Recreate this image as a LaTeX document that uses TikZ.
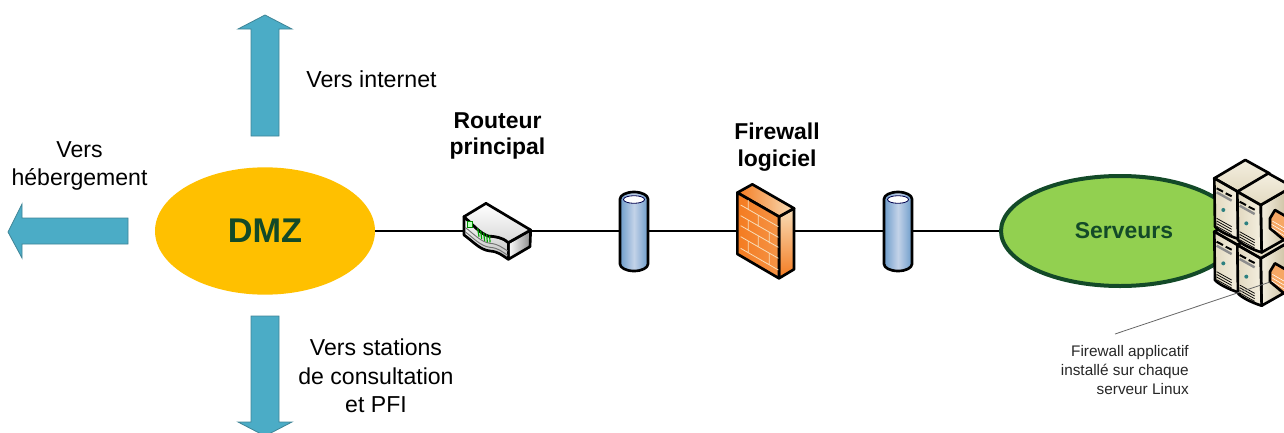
\documentclass[tikz,border=0pt]{standalone}
\usepackage{fontspec}
\setmainfont{Liberation Sans}
\usetikzlibrary{shapes.geometric}
\definecolor{arrowblue}{HTML}{4BACC6}
\definecolor{arrowedge}{HTML}{3F8496}
\definecolor{gold}{HTML}{FFC000}
\definecolor{leaf}{HTML}{92D050}
\definecolor{pine}{HTML}{134A28}
\definecolor{brick}{HTML}{F47B20}
\definecolor{brickpale}{HTML}{F8DDB8}
\definecolor{cyl}{HTML}{6E9CCB}
\definecolor{cylpale}{HTML}{C3D3E8}
\definecolor{srvpale}{HTML}{F4EFE0}
\definecolor{srvmid}{HTML}{E2D9C0}
\definecolor{srvdark}{HTML}{C4B896}
\tikzset{
  bigarrow/.style={fill=arrowblue,draw=arrowedge,line width=.6pt},
  link/.style={draw=black,line width=1pt},
  iconline/.style={draw=black,line width=2pt,line join=round},
  anchorbox/.style={inner sep=0pt,outer sep=0pt,minimum height=20pt},
  biglabel/.style={font=\fontsize{17.3}{21.2}\selectfont,align=center,inner sep=0pt},
  boldlabel/.style={font=\fontsize{17.2}{20.2}\selectfont\bfseries,align=center,inner sep=0pt},
  notelabel/.style={font=\fontsize{11.5}{14}\selectfont,align=right,inner sep=0pt,text=black!85},
}
% server icon; #1 = front top-left corner in reference pixels; coordinates inside are 1/3 pixel
\newcommand{\serverbox}[1]{%
\begin{scope}[shift={#1},x=.25pt,y=-.25pt]
  \shade[left color=srvpale,right color=srvdark,iconline] (70,40) -- (165,-15) -- (165,130) -- (73,182) -- cycle;
  \shade[top color=srvpale,bottom color=srvmid,iconline] (0,0) -- (93,-55) -- (165,-15) -- (70,40) -- cycle;
  \shade[left color=srvmid,right color=srvpale,iconline] (0,0) -- (70,40) -- (73,182) .. controls (40,172) and (10,155) .. (2,145) -- cycle;
  \draw[black,line width=1.5pt] (7,30) -- (26,40) (34,45) -- (52,54);
  \draw[black!45,line width=1.8pt] (7,42) -- (52,67);
  \fill[teal!65!gray] (27,95) circle (6);
  \draw[black,line width=.55pt] (7,120) -- (52,145) (7,128) -- (52,153) (7,136) -- (52,161) (7,144) -- (52,169);
\end{scope}}
% small firewall on a server's side
\newcommand{\miniwall}[1]{%
\begin{scope}[shift={#1},x=.25pt,y=-.25pt]
  \path[fill=brick!55!brickpale,iconline] (98,80) -- (113,55) -- (170,88) -- (170,170) -- (98,110) -- cycle;
  \draw[white,line width=.4pt] (105,88) -- (150,114) (103,98) -- (150,126) (103,108) -- (150,138);
\end{scope}}
\newcommand{\cylicon}[1]{%
\begin{scope}[shift={#1}]
  \shade[left color=cyl,right color=cyl,middle color=cylpale,iconline]
    (-14,-32) -- (-14,33) arc[start angle=180,end angle=360,x radius=14,y radius=-7] -- (14,-32)
    arc[start angle=0,end angle=180,x radius=14,y radius=-7] -- cycle;
  \draw[black!70!blue,line width=.6pt,fill=white] (0,-31.5) ellipse[x radius=10.5,y radius=3.8];
\end{scope}}
\begin{document}
\begin{tikzpicture}[x=.75pt,y=-.75pt]
\clip (0,0) rectangle (1284,432);
\useasboundingbox (0,0) rectangle (1284,432);

% arrows
\path[bigarrow] (265,15) -- (292,29) -- (279,29) -- (279,136) -- (251,136) -- (251,29) -- (238,29) -- cycle;
\path[bigarrow] (265,436) -- (292,422) -- (279,422) -- (279,316) -- (251,316) -- (251,422) -- (238,422) -- cycle;
\path[bigarrow] (8,232) -- (22,204) -- (22,218) -- (128,218) -- (128,244) -- (22,244) -- (22,258) -- cycle;

% main nodes
\node[ellipse,fill=gold,inner sep=0pt,minimum width=165pt,minimum height=95.5pt,
      font=\fontsize{25.7}{30}\selectfont\bfseries,text=pine] (dmz) at (265,231) {DMZ};
\node[ellipse,fill=leaf,draw=pine,line width=3pt,inner sep=0pt,minimum width=178.5pt,minimum height=82.5pt,
      font=\fontsize{17.2}{20}\selectfont\bfseries,text=pine] (srv) at (1120,231) {\hspace*{6pt}Serveurs};
\node[anchorbox,minimum width=49.5pt] (router) at (497,231) {};
\node[anchorbox,minimum width=21pt] (cylA) at (634,231) {};
\node[anchorbox,minimum width=42pt] (wall) at (766,231) {};
\node[anchorbox,minimum width=21pt] (cylB) at (898,231) {};

\draw[link] (dmz.east) -- (router.west);
\draw[link] (router.east) -- (cylA.west);
\draw[link] (cylA.east) -- (wall.west);
\draw[link] (wall.east) -- (cylB.west);
\draw[link] (cylB.east) -- (srv.west);

% router
\begin{scope}[shift={(440,170)},x=.25pt,y=-.25pt]
  \shade[left color=white,right color=black!45,iconline] (205,218) -- (272,180) -- (270,230) -- (205,268) -- cycle;
  \shade[top color=white,bottom color=black!25,iconline] (72,140) -- (72,195) .. controls (100,215) and (120,240) .. (150,243)
     .. controls (175,245) and (185,255) .. (205,268) -- (205,218) .. controls (185,200) and (165,200) .. (145,198)
     .. controls (120,190) and (100,165) .. (72,140) -- cycle;
  \shade[top color=white,bottom color=black!15,iconline] (72,140) -- (138,100) -- (272,180) -- (205,218)
     .. controls (185,200) and (165,200) .. (145,198) .. controls (120,190) and (100,165) .. (72,140) -- cycle;
  \draw[black!55,line width=.7pt] (75,172) .. controls (100,190) and (120,215) .. (150,220) .. controls (175,222) and (185,232) .. (203,243);
  \draw[black!55,line width=.7pt] (75,185) .. controls (100,203) and (120,228) .. (150,232) .. controls (175,234) and (185,244) .. (203,256);
  \draw[green!65!black,line width=.9pt] (113,175) -- (117,200) (122,182) -- (125,207) (131,188) -- (134,213) (140,193) -- (142,217) (149,197) -- (150,217);
  \draw[green!55!black,line width=.6pt,fill=green!25] (81,155) rectangle (96,172);
\end{scope}

% cylinders
\cylicon{(634,231)}
\cylicon{(898,231)}

% brick wall
\begin{scope}[shift={(720,170)},x=.25pt,y=-.25pt]
  \shade[top color=brickpale,bottom color=brick,iconline] (177,140) -- (222,115) -- (222,298) -- (177,325) -- cycle;
  \shade[left color=brick,right color=brickpale,iconline] (52,68) -- (97,43) -- (222,115) -- (177,140) -- cycle;
  \shade[left color=brick,right color=brick!75!brickpale,iconline] (52,68) -- (177,140) -- (177,325) -- (52,252) -- cycle;
  \draw[brickpale,line width=.6pt]
    (62,105) -- (175,170) (62,137) -- (175,202) (62,167) -- (175,232) (62,200) -- (175,265) (62,235) -- (175,300)
    (85,90) -- (85,120) (115,137) -- (115,170) (85,152) -- (85,182) (148,187) -- (148,220)
    (115,200) -- (115,232) (85,215) -- (85,247) (148,250) -- (148,283);
\end{scope}

% servers
\serverbox{(1214.3,231.7)}
\serverbox{(1237.3,245)}
\miniwall{(1237.3,245)}
\serverbox{(1214.3,178.3)}
\serverbox{(1237.3,191.7)}
\miniwall{(1237.3,191.7)}

% leader
\coordinate (leadA) at (1115,334);
\coordinate (leadB) at (1270,282);
\draw[black!60,line width=.6pt] (leadA) -- (leadB);

% labels
\node[font=\fontsize{17.4}{21}\selectfont,inner sep=0pt] (lA) at (371.5,79) {Vers internet};
\node[biglabel] (lB) at (79.5,166) {Vers\\hébergement};
\node[biglabel] (lC) at (376,376) {Vers stations\\de consultation\\et PFI};
\node[boldlabel] (lD) at (497.5,136) {Routeur\\principal};
\node[boldlabel] (lE) at (777,147) {Firewall\\logiciel};
\node[notelabel,anchor=east] (lF) at (1189,370) {Firewall applicatif\\installé sur chaque\\serveur Linux};
\end{tikzpicture}
\end{document}
